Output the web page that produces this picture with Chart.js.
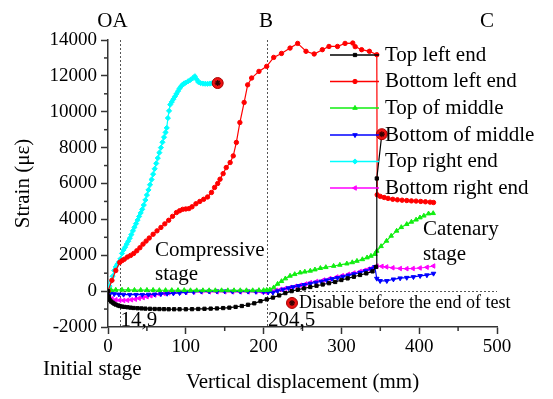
<!DOCTYPE html>
<html>
<head>
<meta charset="utf-8">
<script src="https://cdn.jsdelivr.net/npm/chart.js@4/dist/chart.umd.min.js"></script>
<style>
  html, body { margin: 0; padding: 0; background: #fff; }
  #wrap { width: 553px; height: 399px; }
</style>
</head>
<body>
<div id="wrap"><canvas id="strain" width="553" height="399"></canvas></div>
<script>
// strain gauge readings against vertical displacement (mm)
var topLeftX = [0, 1, 2, 4, 6, 8, 10, 13, 15, 18, 21, 25, 29, 33, 38, 43, 48, 54, 60, 66, 72, 78, 85, 92, 100, 108, 116, 124, 132, 140, 148, 156, 164, 172, 180, 188, 196, 204, 212, 220, 228, 236, 244, 252, 260, 268, 276, 284, 292, 300, 308, 316, 324, 332, 340, 344.6, 345.5, 352];
var topLeftY = [0, -300, -480, -580, -640, -700, -750, -800, -830, -860, -880, -900, -920, -940, -955, -965, -975, -985, -995, -1000, -1005, -1010, -1010, -1010, -1010, -1005, -995, -985, -975, -965, -945, -920, -880, -830, -760, -680, -560, -460, -360, -240, -110, 0, 80, 150, 230, 300, 370, 440, 510, 620, 710, 800, 900, 990, 1100, 1350, 6280, 8750];

var botLeftX = [0, 5, 10, 15, 18, 21, 25, 29, 33, 37, 41, 45, 49, 53, 58, 63, 68, 73, 78, 83, 88, 92, 96, 100, 104, 108, 113, 118, 123, 128, 133, 137, 141, 144, 148, 152, 157, 161, 165, 169.5, 175, 179.5, 184.6, 194, 204, 213, 223, 234, 243.8, 254.5, 265, 275.5, 284, 295, 304.7, 314.6, 317.7, 326, 336, 345.5, 346, 350, 355, 360, 366, 372, 378, 384, 390, 396, 402, 408, 414, 418.4];
var botLeftY = [0, 600, 1150, 1600, 1700, 1780, 1900, 1990, 2100, 2250, 2420, 2620, 2790, 2960, 3170, 3360, 3550, 3750, 3950, 4170, 4380, 4480, 4560, 4580, 4600, 4700, 4870, 5000, 5120, 5250, 5500, 5780, 6000, 6240, 6550, 6890, 7170, 7540, 8290, 9400, 10520, 11500, 11880, 12250, 12530, 13030, 13250, 13550, 13810, 13370, 13220, 13460, 13640, 13640, 13810, 13830, 13630, 13460, 13370, 13180, 5370, 5280, 5220, 5170, 5120, 5090, 5070, 5050, 5030, 5020, 5000, 4980, 4960, 4940];

var topMidX = [0, 4, 10, 18, 26, 34, 42, 50, 58, 66, 74, 82, 90, 98, 106, 114, 122, 130, 138, 146, 154, 162, 170, 178, 186, 194, 200, 204, 208, 213, 218, 223, 228, 234, 240, 247, 253, 260, 266, 273, 280, 290, 298, 307, 314, 320, 327, 333, 338, 343, 345.5, 351, 358, 364, 371, 377, 384, 390, 396, 401, 406, 412, 418];
var topMidY = [0, 60, 70, 70, 70, 60, 60, 60, 60, 50, 50, 50, 50, 50, 40, 40, 40, 40, 40, 40, 40, 40, 40, 40, 40, 50, 50, 60, 80, 200, 400, 550, 700, 850, 940, 1030, 1080, 1130, 1200, 1280, 1330, 1400, 1460, 1530, 1600, 1680, 1770, 1870, 1960, 2060, 2240, 2500, 2800, 3080, 3360, 3560, 3730, 3860, 3980, 4100, 4200, 4320, 4340];

var botMidX = [0, 3, 8, 14, 20, 28, 36, 44, 52, 60, 68, 76, 84, 92, 100, 110, 120, 130, 140, 150, 160, 170, 180, 190, 200, 206, 212, 218, 225, 232, 238, 245, 252, 260, 267, 274, 281, 288, 295, 302, 309, 316, 324, 331, 338, 343, 345.5, 349.8, 358.4, 366.9, 375.5, 384, 392.6, 401.2, 409.9, 418.4];
var botMidY = [0, -120, -160, -180, -190, -200, -200, -200, -190, -180, -160, -140, -120, -100, -70, -40, -20, -10, -10, -10, -20, -20, -20, -30, -40, -60, -80, 0, 90, 170, 230, 290, 350, 420, 480, 540, 610, 680, 740, 810, 880, 950, 1030, 1120, 1230, 1350, 700, 570, 570, 660, 720, 750, 790, 850, 890, 980];

var topRightX = [0, 2, 4, 6, 8, 10, 12, 14, 16, 18, 20, 22, 24, 26, 28, 30, 32, 34, 36, 38, 40, 42, 44, 46, 48, 50, 52, 54, 56, 58, 60, 62, 64, 66, 68, 70, 72, 74, 75.5, 77, 78.5, 80, 82, 84, 86, 88, 90, 92, 94, 96, 98, 100, 103, 106, 109, 111.6, 114, 116, 119, 122, 125, 128, 131, 134, 137, 141];
var topRightY = [0, 280, 560, 830, 1150, 1350, 1500, 1620, 1800, 2100, 2300, 2450, 2620, 2780, 2950, 3150, 3360, 3560, 3760, 3960, 4160, 4360, 4560, 4800, 5080, 5360, 5640, 5930, 6220, 6520, 6820, 7120, 7420, 7720, 8000, 8300, 8580, 8850, 9100, 9650, 10050, 10400, 10550, 10700, 10850, 11000, 11150, 11300, 11420, 11520, 11580, 11620, 11700, 11780, 11870, 11980, 11800, 11660, 11600, 11570, 11560, 11560, 11570, 11590, 11600, 11600];

var botRightX = [0, 2, 5, 10, 15, 20, 25, 30, 35, 40, 45, 50, 55, 60, 66, 72, 78, 84, 92, 100, 110, 120, 130, 140, 150, 160, 170, 180, 190, 198, 204, 210, 216, 222, 228, 234, 241, 247, 254, 260, 268, 277, 285, 294, 301, 309, 316, 324, 330, 335, 340, 345.5, 352, 358, 366, 375.5, 384, 392, 401, 410, 418.4];
var botRightY = [0, -360, -430, -480, -510, -520, -510, -480, -450, -400, -360, -310, -260, -220, -170, -130, -100, -80, -70, -60, -50, -40, -40, -40, -40, -40, -40, -40, -40, -50, -80, -20, 50, 100, 150, 200, 270, 330, 400, 470, 540, 620, 700, 790, 860, 940, 1010, 1090, 1160, 1230, 1300, 1400, 1380, 1350, 1300, 1260, 1250, 1260, 1290, 1330, 1400];

// gauges lost before the end of the test
var disableX = [141, 352];
var disableY = [11600, 8750];

var seriesNames = ['Top left end', 'Bottom left end', 'Top of middle', 'Bottom of middle', 'Top right end', 'Bottom right end'];
var stageBounds = [14.9, 204.5];
var stageBoundLabels = ['14,9', '204,5'];
var xTicks = [0, 100, 200, 300, 400, 500];
var yTicks = [-2000, 0, 2000, 4000, 6000, 8000, 10000, 12000, 14000];

var SERIF = "'Liberation Serif', 'Times New Roman', serif";
Chart.defaults.font.family = SERIF;
Chart.defaults.font.size = 19;
Chart.defaults.color = '#000';

function pts(xs, ys) {
  return xs.map(function (x, i) { return { x: x, y: ys[i] }; });
}

var styles = [
  { color: '#000000', point: 'rect', r: 2.3, rot: 0 },
  { color: '#ff0000', point: 'circle', r: 2.2, rot: 0 },
  { color: '#11ee11', point: 'triangle', r: 2.6, rot: 0 },
  { color: '#0000ff', point: 'triangle', r: 2.6, rot: 180 },
  { color: '#00ffff', point: 'rectRot', r: 2.6, rot: 0 },
  { color: '#ff00ff', point: 'triangle', r: 2.6, rot: 270 }
];
var seriesData = [
  pts(topLeftX, topLeftY), pts(botLeftX, botLeftY), pts(topMidX, topMidY),
  pts(botMidX, botMidY), pts(topRightX, topRightY), pts(botRightX, botRightY)
];

var datasets = [
  { label: 'disabled', data: pts(disableX, disableY), showLine: false, pointStyle: 'star',
    pointRadius: 3, borderColor: '#330000', borderWidth: 1.2, backgroundColor: '#330000' },
  { label: 'disabled-fill', data: pts(disableX, disableY), showLine: false, pointStyle: 'circle',
    pointRadius: 5.5, borderColor: '#aa0000', borderWidth: 1, backgroundColor: '#ee1111' }
];
seriesNames.forEach(function (name, i) {
  var s = styles[i];
  datasets.push({
    label: name, data: seriesData[i], showLine: true,
    borderColor: s.color, backgroundColor: s.color, borderWidth: 1.2,
    pointStyle: s.point, pointRadius: s.r, pointRotation: s.rot, pointBorderWidth: 1
  });
});

function seg(ctx, x1, y1, x2, y2) {
  ctx.beginPath(); ctx.moveTo(x1, y1); ctx.lineTo(x2, y2); ctx.stroke();
}

function marker(ctx, style, x, y, r, rot) {
  if (Chart.helpers && Chart.helpers.drawPoint) {
    Chart.helpers.drawPoint(ctx, { pointStyle: style, radius: r, rotation: rot, borderWidth: 1 }, x, y);
  } else {
    ctx.beginPath(); ctx.arc(x, y, r, 0, Math.PI * 2); ctx.fill(); ctx.stroke();
  }
}

var overlay = {
  id: 'overlay',
  beforeDatasetsDraw: function (chart) {
    var ctx = chart.ctx, a = chart.chartArea, sx = chart.scales.x, sy = chart.scales.y;
    ctx.save();
    ctx.strokeStyle = '#555'; ctx.lineWidth = 1; ctx.setLineDash([2, 2]);
    stageBounds.forEach(function (v) {
      var px = Math.round(sx.getPixelForValue(v)) + 0.5;
      seg(ctx, px, a.top, px, a.bottom);
    });
    var py = Math.round(sy.getPixelForValue(0)) + 0.5;
    seg(ctx, a.left, py, a.right, py);
    ctx.restore();
  },
  afterDraw: function (chart) {
    var ctx = chart.ctx, a = chart.chartArea, sx = chart.scales.x, sy = chart.scales.y;
    ctx.save();
    // minor ticks halfway between the labelled ones
    ctx.strokeStyle = '#333'; ctx.lineWidth = 1.5;
    for (var v = 50; v < 500; v += 100) {
      var px = sx.getPixelForValue(v);
      seg(ctx, px, a.bottom, px, a.bottom + 4);
    }
    for (var w = -1000; w < 14000; w += 2000) {
      var py = sy.getPixelForValue(w);
      seg(ctx, a.left - 4, py, a.left, py);
    }

    // legend inside the plot
    ctx.font = '21px ' + SERIF;
    ctx.textBaseline = 'middle'; ctx.textAlign = 'left';
    var ly = [55, 81.5, 108, 135, 161.5, 188];
    seriesNames.forEach(function (name, i) {
      var s = styles[i];
      ctx.strokeStyle = s.color; ctx.fillStyle = s.color; ctx.lineWidth = 1.5;
      seg(ctx, 330, ly[i], 379, ly[i]);
      ctx.lineWidth = 1;
      marker(ctx, s.point, 355, ly[i], s.r, s.rot);
      ctx.fillStyle = '#000';
      ctx.fillText(name, 385, ly[i]);
    });

    // stage labels
    ctx.fillStyle = '#000';
    ctx.textBaseline = 'alphabetic';
    ctx.font = '21px ' + SERIF;
    ctx.textAlign = 'center';
    ctx.fillText('OA', 112.5, 27);
    ctx.fillText('B', 266, 27);
    ctx.fillText('C', 487, 27);
    ctx.textAlign = 'left';
    ctx.fillText('Compressive', 155, 256);
    ctx.fillText('stage', 155, 280);
    ctx.fillText('Catenary', 423, 235);
    ctx.fillText('stage', 423, 260);
    ctx.fillText('Initial stage', 43, 375);
    stageBounds.forEach(function (b, i) {
      ctx.fillText(stageBoundLabels[i], sx.getPixelForValue(b) + 1, 326);
    });

    // marker key for the lost gauges
    var kx = sx.getPixelForValue(236.5), ky = sy.getPixelForValue(-660);
    ctx.fillStyle = '#ee1111'; ctx.strokeStyle = '#aa0000'; ctx.lineWidth = 1;
    marker(ctx, 'circle', kx, ky, 5.5, 0);
    ctx.strokeStyle = '#330000'; ctx.fillStyle = '#330000'; ctx.lineWidth = 1.2;
    marker(ctx, 'star', kx, ky, 3, 0);
    ctx.fillStyle = '#000';
    ctx.font = '18px ' + SERIF;
    ctx.fillText('Disable before the end of test', kx + 7, 308);
    ctx.restore();
  }
};

function plain(v) { return String(v); }

new Chart(document.getElementById('strain').getContext('2d'), {
  type: 'scatter',
  data: { datasets: datasets },
  plugins: [overlay],
  options: {
    responsive: false,
    animation: false,
    layout: { padding: { top: 40, right: 56, left: 0, bottom: 0 } },
    plugins: { legend: { display: false }, tooltip: { enabled: false } },
    scales: {
      x: {
        type: 'linear', min: 0, max: 500,
        afterBuildTicks: function (s) { s.ticks = xTicks.map(function (v) { return { value: v }; }); },
        afterFit: function (s) { s.height = 72; },
        grid: { drawOnChartArea: false, drawTicks: true, tickLength: 7, tickColor: '#333', tickWidth: 1.5 },
        border: { display: true, color: '#333', width: 1.5 },
        ticks: { color: '#000', padding: 2, maxRotation: 0, callback: plain, font: { family: SERIF, size: 19 } },
        title: { display: true, text: 'Vertical displacement (mm)', color: '#000', padding: { top: 0, bottom: 4 },
          font: { family: SERIF, size: 21 } }
      },
      y: {
        type: 'linear', min: -2000, max: 14000,
        afterBuildTicks: function (s) { s.ticks = yTicks.map(function (v) { return { value: v }; }); },
        afterFit: function (s) { s.width = 108; },
        grid: { drawOnChartArea: false, drawTicks: true, tickLength: 7, tickColor: '#333', tickWidth: 1.5 },
        border: { display: true, color: '#333', width: 1.5 },
        ticks: { color: '#000', padding: 4, callback: plain, font: { family: SERIF, size: 19 } },
        title: { display: true, text: 'Strain (με)', color: '#000', padding: { top: 11, bottom: 0 },
          font: { family: SERIF, size: 21 } }
      }
    }
  }
});
</script>
</body>
</html>
